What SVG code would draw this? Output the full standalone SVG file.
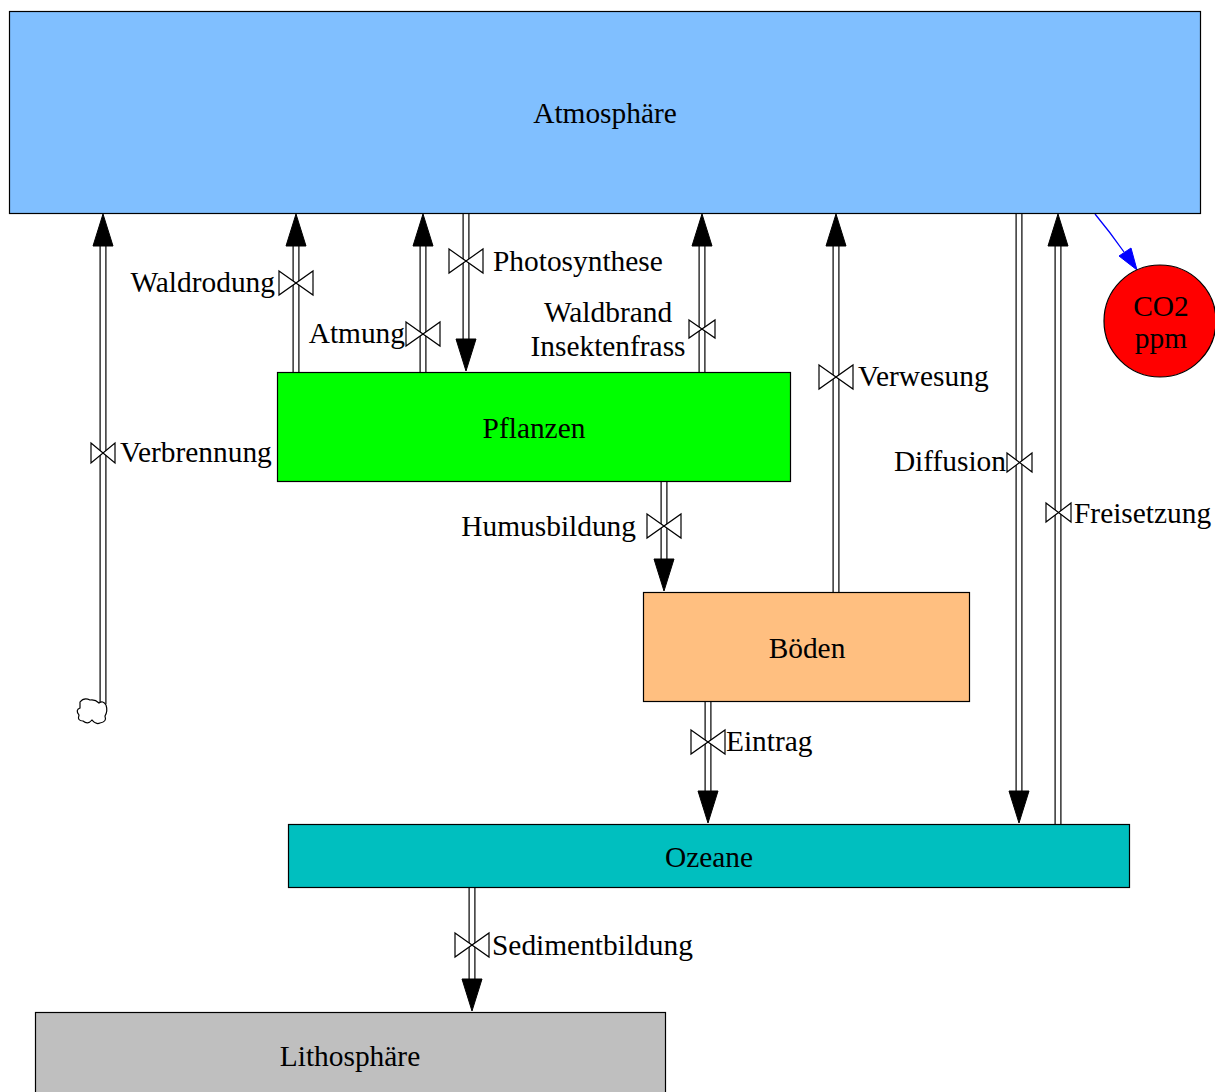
<svg xmlns="http://www.w3.org/2000/svg" width="1215" height="1092" viewBox="0 0 1215 1092">
<style>
  text { font-family: "Liberation Serif", "Times New Roman", serif; font-size: 29.4px; fill: #000; }
  .node { stroke: #000; stroke-width: 1.2; }
  .po { fill: none; stroke: #000; stroke-width: 7; }
  .pi { fill: none; stroke: #fff; stroke-width: 4.6; }
  .ah { fill: #000; stroke: #000; stroke-width: 1; }
  .valve { fill: #fff; stroke: #000; stroke-width: 1.2; }
  .mid { text-anchor: middle; }
  .end { text-anchor: end; }
</style>
<rect width="1215" height="1092" fill="#fff"/>

<g id="connectors">
  <g id="c-verbrennung">
    <path class="po" d="M103,704 V246"/><path class="pi" d="M103,706 V244"/>
    <polygon class="ah" points="103,214 93,246 113,246"/>
    <path class="valve" d="M91,443 L115,463 L115,443 L91,463 Z"/>
    <text x="120" y="462">Verbrennung</text>
  </g>
  <g id="c-waldrodung">
    <path class="po" d="M296,372 V246"/><path class="pi" d="M296,373 V244"/>
    <polygon class="ah" points="296,214 286,246 306,246"/>
    <path class="valve" d="M279,271 L313,295 L313,271 L279,295 Z"/>
    <text class="end" x="275" y="292">Waldrodung</text>
  </g>
  <g id="c-atmung">
    <path class="po" d="M423,372 V246"/><path class="pi" d="M423,373 V244"/>
    <polygon class="ah" points="423,214 413,246 433,246"/>
    <path class="valve" d="M406,322 L440,346 L440,322 L406,346 Z"/>
    <text class="end" x="405" y="343">Atmung</text>
  </g>
  <g id="c-photosynthese">
    <path class="po" d="M466,213 V339"/><path class="pi" d="M466,212 V341"/>
    <polygon class="ah" points="466,371 456,339 476,339"/>
    <path class="valve" d="M449,249 L483,273 L483,249 L449,273 Z"/>
    <text x="493" y="271">Photosynthese</text>
  </g>
  <g id="c-waldbrand">
    <path class="po" d="M702,372 V246"/><path class="pi" d="M702,373 V244"/>
    <polygon class="ah" points="702,214 692,246 712,246"/>
    <path class="valve" d="M689,320 L715,338 L715,320 L689,338 Z"/>
    <text class="mid" x="608" y="322">Waldbrand</text>
    <text class="mid" x="608" y="356">Insektenfrass</text>
  </g>
  <g id="c-verwesung">
    <path class="po" d="M836,592 V246"/><path class="pi" d="M836,593 V244"/>
    <polygon class="ah" points="836,214 826,246 846,246"/>
    <path class="valve" d="M819,365 L853,389 L853,365 L819,389 Z"/>
    <text x="858" y="386">Verwesung</text>
  </g>
  <g id="c-diffusion">
    <path class="po" d="M1019,213 V791"/><path class="pi" d="M1019,212 V793"/>
    <polygon class="ah" points="1019,823 1009,791 1029,791"/>
    <path class="valve" d="M1007,453 L1032,472 L1032,453 L1007,472 Z"/>
    <text class="end" x="1006" y="471">Diffusion</text>
  </g>
  <g id="c-freisetzung">
    <path class="po" d="M1058,824 V246"/><path class="pi" d="M1058,825 V244"/>
    <polygon class="ah" points="1058,214 1048,246 1068,246"/>
    <path class="valve" d="M1046,503 L1071,522 L1071,503 L1046,522 Z"/>
    <text x="1074" y="523">Freisetzung</text>
  </g>
  <g id="c-humusbildung">
    <path class="po" d="M664,481 V559"/><path class="pi" d="M664,480 V561"/>
    <polygon class="ah" points="664,591 654,559 674,559"/>
    <path class="valve" d="M647,514 L681,538 L681,514 L647,538 Z"/>
    <text class="end" x="636" y="536">Humusbildung</text>
  </g>
  <g id="c-eintrag">
    <path class="po" d="M708,701 V791"/><path class="pi" d="M708,700 V793"/>
    <polygon class="ah" points="708,823 698,791 718,791"/>
    <path class="valve" d="M691,730 L725,754 L725,730 L691,754 Z"/>
    <text x="726" y="751">Eintrag</text>
  </g>
  <g id="c-sedimentbildung">
    <path class="po" d="M472,887 V979"/><path class="pi" d="M472,886 V981"/>
    <polygon class="ah" points="472,1011 462,979 482,979"/>
    <path class="valve" d="M455,933 L489,957 L489,933 L455,957 Z"/>
    <text x="492" y="955">Sedimentbildung</text>
  </g>
  <g id="c-co2">
    <path d="M1095,214 Q1110,232 1124,252" fill="none" stroke="#0000ff" stroke-width="1.3"/>
    <polygon points="1137,270 1119,256 1131,248" fill="#0000ff" stroke="#0000ff" stroke-width="1"/>
  </g>
</g>

<g id="cloud">
  <path d="M80,702 Q84,697 90,700 Q95,699 99,703 Q103,700 106,705 Q108,711 105,716 Q107,722 100,723 Q96,725 92,720 Q88,725 83,721 Q77,721 79,715 Q75,710 80,708 Z" fill="#fff" stroke="#000" stroke-width="1.2"/>
</g>

<g id="atmosphaere">
  <rect class="node" x="9.5" y="11.5" width="1191" height="202" fill="#80bfff"/>
  <text class="mid" x="605" y="123">Atmosphäre</text>
</g>
<g id="pflanzen">
  <rect class="node" x="277.5" y="372.5" width="513" height="109" fill="#00ff00"/>
  <text class="mid" x="534" y="438">Pflanzen</text>
</g>
<g id="boeden">
  <rect class="node" x="643.5" y="592.5" width="326" height="109" fill="#ffbf80"/>
  <text class="mid" x="807" y="658">Böden</text>
</g>
<g id="ozeane">
  <rect class="node" x="288.5" y="824.5" width="841" height="63" fill="#00bfbf"/>
  <text class="mid" x="709" y="867">Ozeane</text>
</g>
<g id="lithosphaere">
  <rect class="node" x="35.5" y="1012.5" width="630" height="100" fill="#bfbfbf"/>
  <text class="mid" x="350" y="1066">Lithosphäre</text>
</g>
<g id="co2">
  <circle class="node" cx="1160" cy="321" r="56" fill="#ff0000"/>
  <text class="mid" x="1161" y="316">CO2</text>
  <text class="mid" x="1161" y="348">ppm</text>
</g>
</svg>
